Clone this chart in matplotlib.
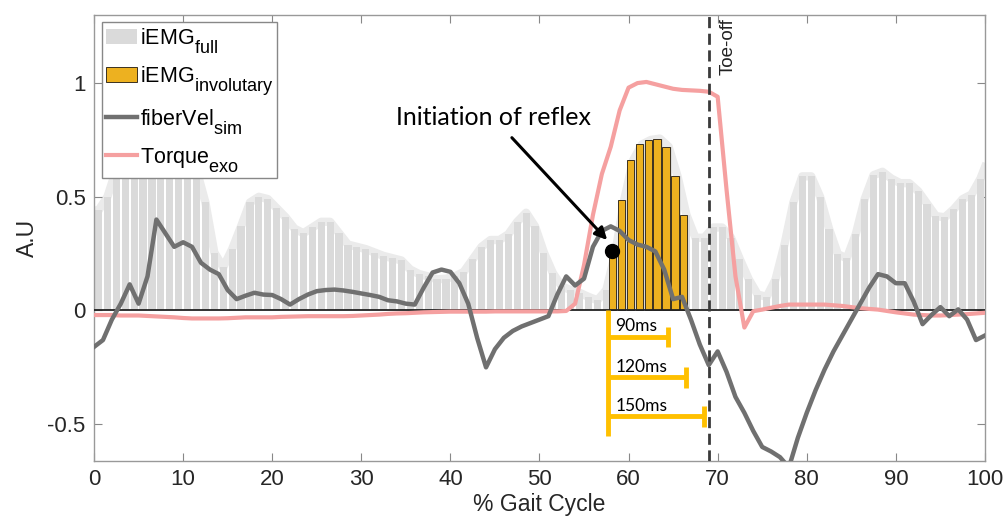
import numpy as np
import matplotlib
matplotlib.use('Agg')
import matplotlib.pyplot as plt
import matplotlib._mathtext as mathtext_internals
from matplotlib.patches import Patch
from matplotlib.lines import Line2D

plt.rcParams['font.family'] = ['Liberation Sans', 'DejaVu Sans']
plt.rcParams['mathtext.fontset'] = 'custom'
plt.rcParams['mathtext.rm'] = 'Liberation Sans'
plt.rcParams['mathtext.it'] = 'Liberation Sans'

# bigger, lower subscripts for the legend labels
mathtext_internals.SHRINK_FACTOR = 0.84
mathtext_internals.FontConstantsBase.sub1 = 0.75
mathtext_internals.FontConstantsBase.sub2 = 0.9

# Data
##########

# iEMG over the full gait cycle, one bin per 1 %
emg_full = [0.44, 0.50, 0.62, 0.70, 0.76, 0.80, 0.82, 0.80, 0.77, 0.74,
            0.70, 0.62, 0.475, 0.255, 0.19, 0.27, 0.37, 0.475, 0.50, 0.49,
            0.45, 0.41, 0.36, 0.34, 0.365, 0.39, 0.39, 0.34, 0.29, 0.28,
            0.27, 0.255, 0.24, 0.23, 0.22, 0.18, 0.16, 0.15, 0.137, 0.14,
            0.15, 0.17, 0.225, 0.28, 0.31, 0.31, 0.335, 0.39, 0.43, 0.37,
            0.255, 0.165, 0.106, 0.09, 0.078, 0.06, 0.045, 0.09, 0.25, 0.485,
            0.66, 0.73, 0.75, 0.756, 0.72, 0.59, 0.42, 0.32, 0.32, 0.365,
            0.365, 0.32, 0.225, 0.137, 0.07, 0.06, 0.137, 0.29, 0.475, 0.59,
            0.59, 0.50, 0.36, 0.247, 0.23, 0.335, 0.49, 0.595, 0.61, 0.58,
            0.56, 0.56, 0.525, 0.47, 0.415, 0.41, 0.445, 0.49, 0.51, 0.58]

# involuntary part (reflex window)
inv_bins = [58, 59, 60, 61, 62, 63, 64, 65, 66]
emg_inv = [0.25, 0.485, 0.66, 0.73, 0.75, 0.756, 0.72, 0.59, 0.42]

# simulated fiber velocity
fv_x = list(range(0, 101))
fv_y = [-0.16, -0.13, -0.04, 0.03, 0.115, 0.03, 0.15, 0.40, 0.34, 0.28,
        0.30, 0.28, 0.21, 0.18, 0.16, 0.09, 0.05, 0.065, 0.078, 0.07,
        0.068, 0.05, 0.026, 0.05, 0.07, 0.085, 0.09, 0.092, 0.088, 0.082,
        0.075, 0.068, 0.06, 0.045, 0.04, 0.03, 0.026, 0.10, 0.167, 0.18,
        0.17, 0.12, 0.03, -0.12, -0.25, -0.17, -0.12, -0.09, -0.07, -0.055,
        -0.04, -0.025, 0.07, 0.15, 0.11, 0.14, 0.28, 0.35, 0.37, 0.35,
        0.31, 0.29, 0.28, 0.26, 0.18, 0.05, 0.06, -0.04, -0.15, -0.24,
        -0.18, -0.27, -0.38, -0.45, -0.53, -0.60, -0.62, -0.645, -0.69, -0.56,
        -0.45, -0.35, -0.26, -0.18, -0.11, -0.04, 0.03, 0.10, 0.16, 0.15,
        0.12, 0.12, 0.04, -0.06, -0.02, 0.015, -0.025, 0.005, -0.04, -0.13,
        -0.11]

# exoskeleton torque
tq_x = list(range(0, 101))
tq_y = [-0.02, -0.02, -0.02, -0.022, -0.022, -0.022, -0.024, -0.026, -0.028, -0.03,
        -0.033, -0.035, -0.035, -0.035, -0.035, -0.034, -0.032, -0.03, -0.03, -0.03,
        -0.03, -0.028, -0.027, -0.026, -0.025, -0.025, -0.025, -0.025, -0.025, -0.024,
        -0.022, -0.02, -0.018, -0.015, -0.013, -0.012, -0.01, -0.008, -0.007, -0.006,
        -0.005, -0.005, -0.005, -0.005, -0.005, -0.004, -0.004, -0.004, -0.004, -0.004,
        -0.004, -0.004, -0.004, -0.002, 0.03, 0.20, 0.42, 0.60, 0.72, 0.88,
        0.98, 1.0, 1.005, 0.995, 0.985, 0.975, 0.97, 0.968, 0.966, 0.962,
        0.94, 0.53, 0.15, -0.075, -0.003, 0.004, 0.012, 0.02, 0.026, 0.026,
        0.026, 0.026, 0.026, 0.023, 0.02, 0.015, 0.01, 0.007, 0.004, -0.002,
        -0.008, -0.013, -0.018, -0.02, -0.022, -0.022, -0.02, -0.018, -0.016, -0.013,
        -0.01]

toe_off = 69
reflex_start = 58
windows = ['90ms', '120ms', '150ms']
window_end = [64.45, 66.4, 68.5]
window_y = [-0.116, -0.294, -0.466]

# Plot
##########

fig = plt.figure(figsize=(10.08, 5.31), dpi=100)
ax = fig.add_axes([0.0933, 0.1326, 0.8838, 0.8394])

gray_c = '#dadada'
orange_c = '#EDB120'
fv_c = '#707070'
tq_c = '#f5a0a0'
gold = '#FFC000'

centers = np.arange(len(emg_full)) + 0.5
env_x = np.concatenate(([0], centers, [100]))
env_y = np.concatenate(([emg_full[0]], emg_full, [0.63]))
ax.plot(env_x, env_y, color='#ebebeb', lw=6, zorder=1, solid_joinstyle='round')
ax.bar(centers, emg_full, width=0.8, color=gray_c, zorder=2)

inv_c = np.array(inv_bins) + 0.2
ax.bar(inv_c, emg_inv, width=0.82, color=orange_c, edgecolor='#3a3020',
       linewidth=0.7, zorder=3)

ax.axhline(0, color='#222222', lw=1.3, zorder=4)
ax.plot(tq_x, tq_y, color=tq_c, lw=3, zorder=5)
ax.plot(fv_x, fv_y, color=fv_c, lw=3.2, zorder=6)

ax.axvline(toe_off, color='#3a3a3a', lw=2, ls=(0, (4, 2)), zorder=7)
ax.text(toe_off + 2.2, 1.285, 'Toe-off', rotation=90, ha='center', va='top',
        fontsize=13.5, color='#222222')

# reflex timing brackets
ax.plot([reflex_start - 0.3, reflex_start - 0.3], [0.0, -0.55], color=gold,
        lw=3.5, solid_capstyle='butt', zorder=8)
for lab, xe, yv in zip(windows, window_end, window_y):
    ax.plot([reflex_start - 0.3, xe], [yv, yv], color=gold, lw=3.5,
            solid_capstyle='butt', zorder=8)
    ax.plot([xe, xe], [yv - 0.045, yv + 0.045], color=gold, lw=3.5,
            solid_capstyle='butt', zorder=8)
    ax.text(reflex_start + 0.5, yv + 0.012, lab, ha='left', va='bottom',
            fontsize=12.5, family=['Lato', 'DejaVu Sans'], color='black')

ax.plot([reflex_start + 0.1], [0.26], 'o', color='black', ms=10, zorder=9)
ax.text(44.8, 0.85, 'Initiation of reflex', ha='center', va='center',
        fontsize=18, family=['Lato', 'DejaVu Sans'], zorder=9)
ax.annotate('', xy=(57.6, 0.31), xytext=(46.9, 0.76),
            arrowprops=dict(arrowstyle='-|>', color='black', lw=2.2,
                            mutation_scale=18, shrinkA=0, shrinkB=0),
            zorder=9)

ax.set_xlim(0, 100)
ax.set_ylim(-0.66, 1.30)
ax.set_xticks(np.arange(0, 101, 10))
ax.set_yticks([-0.5, 0, 0.5, 1])
ax.set_yticklabels(['-0.5', '0', '0.5', '1'])
ax.tick_params(direction='in', length=6, width=0.8, top=True, right=True,
               labelsize=16, colors='#888888', labelcolor='#262626', pad=6)
for s in ax.spines.values():
    s.set_color('#999999')
    s.set_linewidth(1)

ax.set_xlabel('% Gait Cycle', fontsize=16.5, color='#262626', labelpad=2)
ax.set_ylabel('A.U', fontsize=16.5, color='#262626', labelpad=6)

handles = [Patch(facecolor=gray_c, edgecolor='none'),
           Patch(facecolor=orange_c, edgecolor='#3a3020', linewidth=0.7),
           Line2D([], [], color=fv_c, lw=3.2),
           Line2D([], [], color=tq_c, lw=3)]
labels = [r'iEMG$_{\mathrm{full}}$', r'iEMG$_{\mathrm{involutary}}$',
          r'fiberVel$_{\mathrm{sim}}$', r'Torque$_{\mathrm{exo}}$']
leg = ax.legend(handles, labels, loc='upper left', bbox_to_anchor=(0.009, 0.985),
                borderaxespad=0, fontsize=15.5, frameon=True, fancybox=False,
                handlelength=1.4, handletextpad=0.15, labelspacing=0.45,
                borderpad=0.2, framealpha=1)
leg.get_frame().set_edgecolor('#888888')
leg.get_frame().set_linewidth(1)
leg.set_zorder(10)

fig.savefig('out.png', dpi=100)
